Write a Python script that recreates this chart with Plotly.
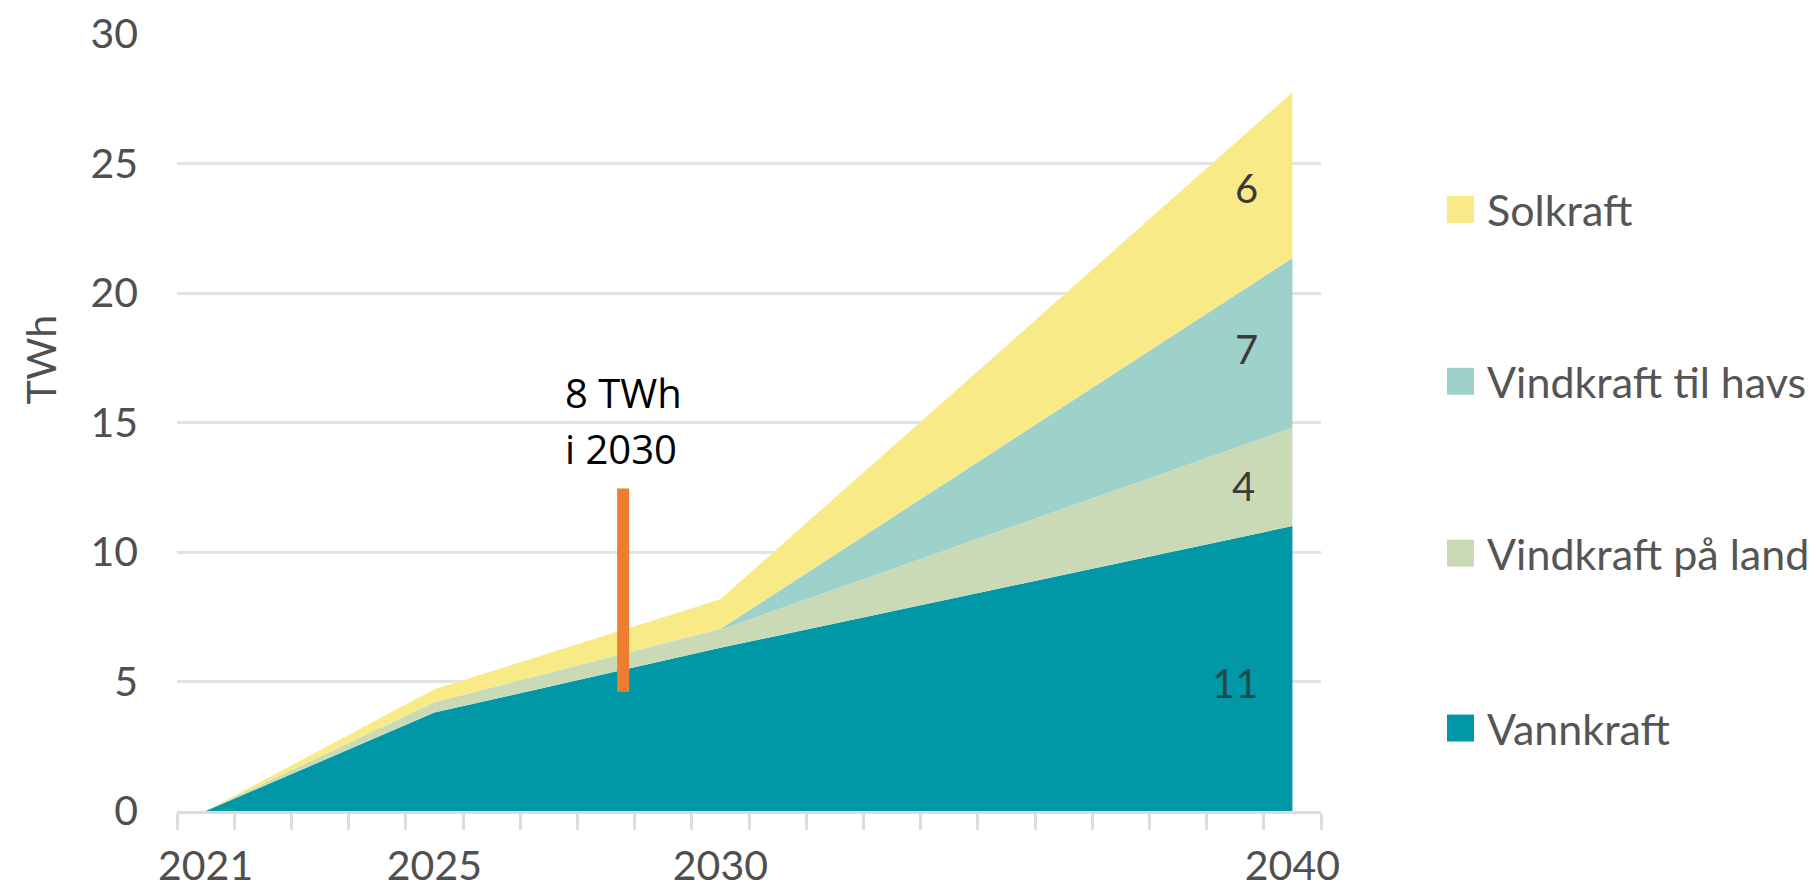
import plotly.graph_objects as go

# ---- data ----
years = [2021, 2025, 2030, 2040]
vannkraft = [0, 3.8, 6.3, 11.0]
vind_land = [0, 0.4, 0.7, 3.8]
vind_havs = [0, 0.0, 0.03, 6.55]
solkraft = [0, 0.5, 1.15, 6.4]

series_names = ["Vannkraft", "Vindkraft på land", "Vindkraft til havs", "Solkraft"]
series_colors = ["#0097A6", "#CADAB7", "#9DD1CA", "#F9EA88"]

xtick_vals = [2021, 2025, 2030, 2040]
xtick_text = ["2021", "2025", "2030", "2040"]
ytick_vals = [0, 5, 10, 15, 20, 25, 30]

# value labels at the right end of each band
band_labels = ["11", "4", "7", "6"]
band_label_x = [2039.0, 2039.15, 2039.2, 2039.2]
band_label_y = [4.94, 12.55, 17.84, 24.05]

# orange marker
marker_x = [2028.3, 2028.3]
marker_y = [4.6, 12.45]
marker_text = ["8 TWh", "i 2030"]
marker_text_x = 2027.25
marker_text_y = [16.15, 14.0]

W, H = 1816, 889
L, R, T, B = 177, 1816 - 1321, 33.5, 889 - 811
pw = W - L - R
ph = H - T - B

TICKFONT = dict(family="Lato", size=41, color="#4f4f4f")

fig = go.Figure()
for name, vals, col in zip(series_names, [vannkraft, vind_land, vind_havs, solkraft], series_colors):
    fig.add_trace(go.Scatter(
        x=years, y=vals, name=name, stackgroup="one", mode="none",
        fillcolor=col, line=dict(width=0), showlegend=False, hoverinfo="skip"))

fig.add_trace(go.Scatter(x=marker_x, y=marker_y, mode="lines",
                         line=dict(color="#ED7D31", width=12), showlegend=False,
                         hoverinfo="skip"))

annotations = []
for t, x, y in zip(band_labels, band_label_x, band_label_y):
    annotations.append(dict(x=x, y=y, xref="x", yref="y", text=t, showarrow=False,
                            font=dict(family="Lato", size=40,
                                      color="#1f4a4c" if t == "11" else "#3a3a3a"),
                            xanchor="center", yanchor="middle"))
for t, y in zip(marker_text, marker_text_y):
    annotations.append(dict(x=marker_text_x, y=y, xref="x", yref="y", text=t, showarrow=False,
                            font=dict(family="Open Sans", size=40, color="#000000"),
                            xanchor="left", yanchor="middle"))

# y-axis title
annotations.append(dict(x=(40 - L) / pw, y=(811 - 360) / ph, xref="paper", yref="paper",
                        text="TWh", textangle=-90, showarrow=False,
                        font=dict(family="Lato", size=41, color="#4f4f4f"),
                        xanchor="center", yanchor="middle"))

# manual legend
legend_order = [3, 2, 1, 0]
legend_y_px = [209, 381, 553, 728]
shapes = []
sq = 27
for idx, ypx in zip(legend_order, legend_y_px):
    x0 = (1447 - L) / pw
    x1 = (1447 + sq - L) / pw
    y0 = (811 - (ypx + sq / 2)) / ph
    y1 = (811 - (ypx - sq / 2)) / ph
    shapes.append(dict(type="rect", xref="paper", yref="paper", x0=x0, x1=x1, y0=y0, y1=y1,
                       fillcolor=series_colors[idx], line=dict(width=0)))
    annotations.append(dict(x=(1485 - L) / pw, y=(811 - ypx) / ph, xref="paper", yref="paper",
                            text=series_names[idx], showarrow=False,
                            font=dict(family="Lato", size=43, color="#555555"),
                            xanchor="left", yanchor="middle"))

fig.update_layout(
    width=W, height=H,
    margin=dict(l=L, r=R, t=T, b=B, pad=0, autoexpand=False),
    plot_bgcolor="white", paper_bgcolor="white",
    showlegend=False,
    annotations=annotations,
    shapes=shapes,
    xaxis=dict(range=[2020.5, 2040.5], tickmode="array", tickvals=xtick_vals, ticktext=xtick_text,
               ticks="", showgrid=False, zeroline=False, automargin=False,
               showline=True, linecolor="#dcdcdc", linewidth=3,
               tickfont=TICKFONT, ticklabelstandoff=17,
               minor=dict(tickmode="array", tickvals=[2020.5 + i for i in range(21)],
                          ticks="outside", ticklen=16, tickwidth=3, tickcolor="#dedede",
                          showgrid=False)),
    yaxis=dict(range=[0, 30], tickmode="array", tickvals=ytick_vals, ticks="",
               showgrid=True, gridcolor="#e2e2e2", gridwidth=3, zeroline=False,
               automargin=False,
               showline=False, tickfont=TICKFONT, ticklabelstandoff=38),
)

fig.write_html("out.html")
